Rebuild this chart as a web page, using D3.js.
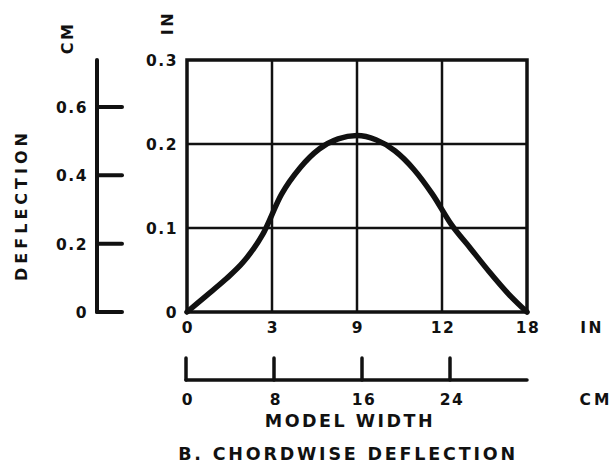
<!DOCTYPE html>
<html>
<head>
<meta charset="utf-8">
<script src="https://cdn.jsdelivr.net/npm/d3@7"></script>
<style>
  html, body { margin: 0; padding: 0; background: #fff; }
  svg { display: block; }
  text { font-family: "DejaVu Sans", sans-serif; font-weight: bold; fill: #111; }
</style>
</head>
<body>
<svg id="chart" width="615" height="472"></svg>
<script>
// Chordwise deflection profile (model width in inches, deflection in inches)
const widthIn      = [0, 1, 2, 3, 4, 5, 6, 7, 8, 9, 10, 11, 12, 13, 14, 15, 16, 17, 18];
const deflectionIn = [0, 0.019, 0.038, 0.060, 0.092, 0.140, 0.172, 0.194, 0.206, 0.210, 0.205, 0.192, 0.170, 0.140, 0.104, 0.076, 0.048, 0.022, 0];

// Axis ticks and their printed labels
const xTickValues  = [0, 4.5, 9, 13.5, 18];
const xTickLabels  = ["0", "3", "9", "12", "18"];
const yTickValues  = [0, 0.1, 0.2, 0.3];
const yTickLabels  = ["0", "0.1", "0.2", "0.3"];
const cmYTicks     = [0, 0.2, 0.4, 0.6];
const cmYLabels    = ["0", "0.2", "0.4", "0.6"];
const cmXTicks     = [0, 8, 16, 24];
const cmXLabels    = ["0", "8", "16", "24"];

const svg = d3.select("#chart");
const ink = "#111";

const plot = { left: 187, right: 527, top: 60, bottom: 312 };

const x = d3.scaleLinear().domain([0, 18]).range([plot.left, plot.right]);
const y = d3.scaleLinear().domain([0, 0.3]).range([plot.bottom, plot.top]);
const yCm = d3.scaleLinear().domain([0, 0.6]).range([312, 107]);
const xCm = d3.scaleLinear().domain([0, 8]).range([186, 274]);

// Grid
const g = svg.append("g");
g.selectAll("line.v").data(xTickValues.slice(1, -1)).join("line")
  .attr("x1", d => x(d)).attr("x2", d => x(d))
  .attr("y1", plot.top).attr("y2", plot.bottom)
  .attr("stroke", ink).attr("stroke-width", 2.5);
g.selectAll("line.h").data(yTickValues.slice(1, -1)).join("line")
  .attr("x1", plot.left).attr("x2", plot.right)
  .attr("y1", d => y(d)).attr("y2", d => y(d))
  .attr("stroke", ink).attr("stroke-width", 2.5);

// Frame
g.append("rect")
  .attr("x", plot.left).attr("y", plot.top)
  .attr("width", plot.right - plot.left).attr("height", plot.bottom - plot.top)
  .attr("fill", "none").attr("stroke", ink).attr("stroke-width", 3.5);

// Deflection curve
const line = d3.line()
  .x((d, i) => x(widthIn[i]))
  .y(d => y(d))
  .curve(d3.curveMonotoneX);
svg.append("path")
  .datum(deflectionIn)
  .attr("d", line)
  .attr("fill", "none").attr("stroke", ink)
  .attr("stroke-width", 5.5).attr("stroke-linecap", "round").attr("stroke-linejoin", "round");

// Inch y-axis labels
svg.selectAll("text.yin").data(yTickValues).join("text")
  .attr("x", 178).attr("y", d => y(d) + 6)
  .attr("text-anchor", "end")
  .attr("font-size", 15.5).attr("letter-spacing", 1.5)
  .text((d, i) => yTickLabels[i]);

// Inch x-axis labels
svg.selectAll("text.xin").data(xTickValues).join("text")
  .attr("x", d => x(d) + 1).attr("y", 333)
  .attr("text-anchor", "middle")
  .attr("font-size", 15.5).attr("letter-spacing", 1.5)
  .text((d, i) => xTickLabels[i]);

svg.append("text").attr("x", 592).attr("y", 333)
  .attr("text-anchor", "middle").attr("font-size", 15.5).attr("letter-spacing", 2.5)
  .text("IN");

// Centimetre y-axis (left)
const cmAxis = svg.append("g");
cmAxis.append("line")
  .attr("x1", 97).attr("x2", 97).attr("y1", 60).attr("y2", yCm(0))
  .attr("stroke", ink).attr("stroke-width", 4).attr("stroke-linecap", "round");
cmAxis.selectAll("line.t").data(cmYTicks).join("line")
  .attr("x1", 97).attr("x2", 122)
  .attr("y1", d => yCm(d)).attr("y2", d => yCm(d))
  .attr("stroke", ink).attr("stroke-width", 4).attr("stroke-linecap", "round");
cmAxis.selectAll("text").data(cmYTicks).join("text")
  .attr("x", 88).attr("y", d => yCm(d) + 6)
  .attr("text-anchor", "end")
  .attr("font-size", 15.5).attr("letter-spacing", 1.5)
  .text((d, i) => cmYLabels[i]);

// Centimetre x-axis (bottom)
const cmX = svg.append("g");
cmX.append("line")
  .attr("x1", xCm(0)).attr("x2", plot.right).attr("y1", 380).attr("y2", 380)
  .attr("stroke", ink).attr("stroke-width", 3.5).attr("stroke-linecap", "round");
cmX.selectAll("line.t").data(cmXTicks).join("line")
  .attr("x1", d => xCm(d)).attr("x2", d => xCm(d))
  .attr("y1", 358).attr("y2", 380)
  .attr("stroke", ink).attr("stroke-width", 3.5).attr("stroke-linecap", "round");
cmX.selectAll("text").data(cmXTicks).join("text")
  .attr("x", d => xCm(d) + 2).attr("y", 405)
  .attr("text-anchor", "middle")
  .attr("font-size", 15.5).attr("letter-spacing", 1.5)
  .text((d, i) => cmXLabels[i]);

svg.append("text").attr("x", 596).attr("y", 405)
  .attr("text-anchor", "middle").attr("font-size", 15.5).attr("letter-spacing", 3)
  .text("CM");

// Unit labels over the vertical axes
svg.append("text")
  .attr("transform", "translate(173,23) rotate(-90)")
  .attr("text-anchor", "middle").attr("font-size", 16).attr("letter-spacing", 2.5)
  .text("IN");
svg.append("text")
  .attr("transform", "translate(73,38) rotate(-90)")
  .attr("text-anchor", "middle").attr("font-size", 16).attr("letter-spacing", 2.5)
  .text("CM");

// Axis titles
svg.append("text")
  .attr("transform", "translate(27,205) rotate(-90)")
  .attr("text-anchor", "middle").attr("font-size", 16).attr("letter-spacing", 4)
  .text("DEFLECTION");
svg.append("text")
  .attr("x", 350).attr("y", 427)
  .attr("text-anchor", "middle").attr("font-size", 17.5).attr("letter-spacing", 2.5)
  .text("MODEL WIDTH");
svg.append("text")
  .attr("x", 348).attr("y", 460)
  .attr("text-anchor", "middle").attr("font-size", 17.5).attr("letter-spacing", 2.8)
  .text("B. CHORDWISE DEFLECTION");
</script>
</body>
</html>
